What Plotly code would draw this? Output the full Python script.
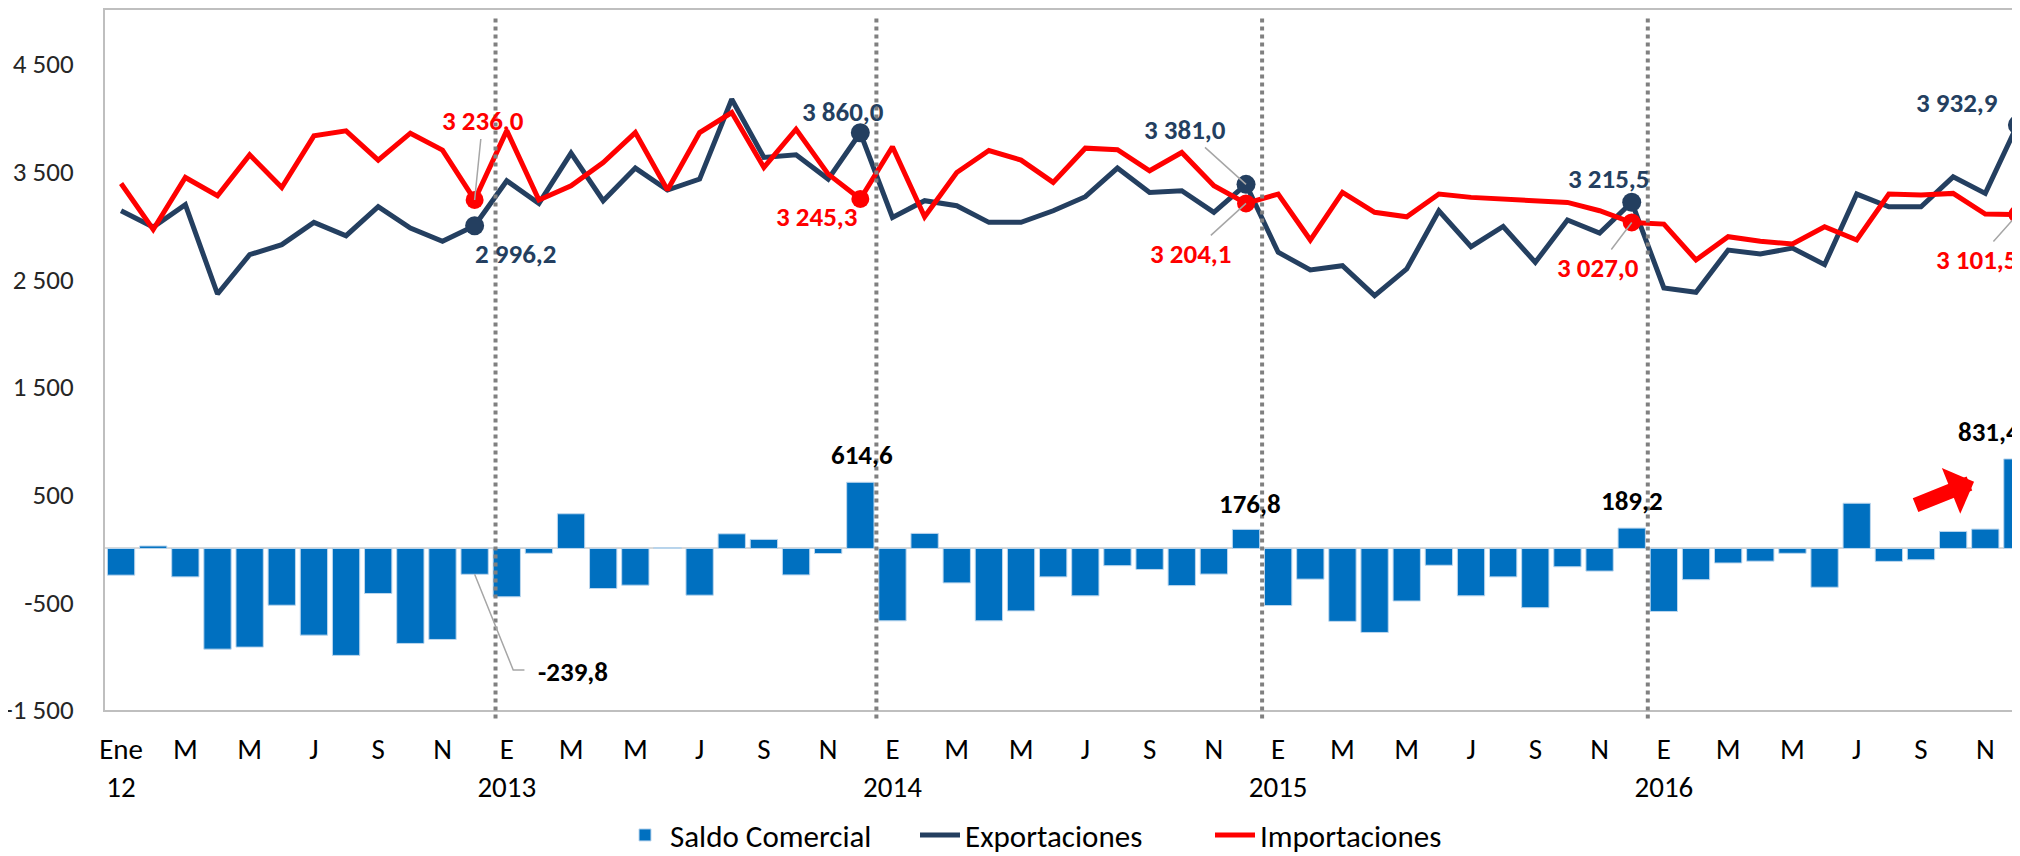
"""
Balanza comercial mensual 2012-2016: saldo (barras), exportaciones e importaciones (lineas).
"""

import plotly.graph_objects as go

# periodos mensuales ene-2012 .. dic-2016
anios = [2012, 2013, 2014, 2015, 2016]
periodos = [f"{a}-{m:02d}" for a in anios for m in range(1, 13)]

exportaciones = [
    3136, 2985, 3192, 2363, 2728, 2821, 3028, 2904, 3173, 2975, 2852, 2996.2,
    3414, 3204, 3671, 3229, 3532, 3328, 3430, 4171, 3631, 3655, 3430, 3860.0,
    3074, 3229, 3182, 3028, 3028, 3136, 3266, 3532, 3306, 3322, 3121, 3381.0,
    2750, 2586, 2626, 2348, 2595, 3136, 2802, 2990, 2657, 3050, 2929, 3215.5,
    2419, 2379, 2771, 2734, 2790, 2635, 3291, 3173, 3173, 3451, 3297, 3932.9,
]
importaciones = [
    3389, 2962, 3445, 3275, 3655, 3352, 3831, 3878, 3606, 3856, 3699, 3236.0,
    3880, 3235, 3368, 3584, 3862, 3328, 3862, 4048, 3538, 3893, 3476, 3245.3,
    3730, 3080, 3491, 3695, 3606, 3399, 3717, 3702, 3507, 3677, 3368, 3204.1,
    3291, 2864, 3306, 3121, 3080, 3291, 3260, 3247, 3229, 3213, 3136, 3027.0,
    3012, 2679, 2895, 2852, 2827, 2988, 2864, 3291, 3281, 3297, 3105, 3101.5,
]
saldo = [
    -248, 23, -264, -935, -916, -527, -805, -993, -418, -882, -845, -239.8,
    -449, -45, 322, -372, -341, 8, -434, 136, 84, -246, -47, 614.6,
    -672, 140, -320, -672, -580, -264, -440, -160, -195, -345, -238, 176.8,
    -530, -285, -677, -780, -488, -156, -440, -264, -550, -170, -210, 189.2,
    -585, -290, -135, -118, -45, -360, 420, -120, -105, 158, 180, 831.4,
]

# diciembres destacados (indices)
destacados = [11, 23, 35, 47, 59]

# etiquetas del eje x (cada dos meses)
ticks_x = [
    "Ene<br>12", "M", "M", "J", "S", "N",
    "E<br>2013", "M", "M", "J", "S", "N",
    "E<br>2014", "M", "M", "J", "S", "N",
    "E<br>2015", "M", "M", "J", "S", "N",
    "E<br>2016", "M", "M", "J", "S", "N",
]
ticks_y = [-1500, -500, 500, 1500, 2500, 3500, 4500]
ticks_y_txt = ["-1 500", "-500", "500", "1 500", "2 500", "3 500", "4 500"]

AZUL = "#0070C0"
NAVY = "#243F60"
ROJO = "#FF0000"
GRIS = "#A6A6A6"
FUENTE = "Carlito, Calibri, Lato, sans-serif"


def fmt(v):
    """3860.0 -> '3 860,0'"""
    s = f"{v:,.1f}"
    return s.replace(",", " ").replace(".", ",")


fig = go.Figure()

fig.add_trace(go.Bar(
    x=periodos, y=saldo, name="Saldo Comercial",
    marker=dict(color=AZUL, line=dict(color="#BDD7EE", width=1)),
))
fig.add_trace(go.Scatter(
    x=periodos, y=exportaciones, name="Exportaciones", mode="lines",
    line=dict(color=NAVY, width=5),
))
fig.add_trace(go.Scatter(
    x=periodos, y=importaciones, name="Importaciones", mode="lines",
    line=dict(color=ROJO, width=5),
))
# marcadores en diciembre
fig.add_trace(go.Scatter(
    x=[periodos[i] for i in destacados], y=[exportaciones[i] for i in destacados],
    mode="markers", showlegend=False, hoverinfo="skip",
    marker=dict(color=NAVY, size=19),
))
fig.add_trace(go.Scatter(
    x=[periodos[i] for i in destacados], y=[importaciones[i] for i in destacados],
    mode="markers", showlegend=False, hoverinfo="skip",
    marker=dict(color=ROJO, size=18),
))

# separadores de año
for xs in [11.65, 23.5, 35.5, 47.5]:
    fig.add_shape(type="line", xref="x", yref="paper", x0=xs, x1=xs, y0=-0.012, y1=0.993,
                  line=dict(color="#808080", width=4, dash="dot"), layer="above")

# etiquetas: (serie, indice, color, dx, dy, con guia)
etiquetas = [
    (exportaciones, 11, NAVY, 41, 28, False),
    (exportaciones, 23, NAVY, -17, -21, False),
    (exportaciones, 35, NAVY, -61, -55, True),
    (exportaciones, 47, NAVY, -23, -24, False),
    (exportaciones, 59, NAVY, -60, -22, False),
    (importaciones, 11, ROJO, 8, -79, True),
    (importaciones, 23, ROJO, -43, 18, False),
    (importaciones, 35, ROJO, -55, 50, True),
    (importaciones, 47, ROJO, -34, 45, True),
    (importaciones, 59, ROJO, -40, 45, True),
    (saldo, 23, "#000000", 2, -28, False),
    (saldo, 35, "#000000", 4, -26, False),
    (saldo, 47, "#000000", 0, -28, False),
    (saldo, 59, "#000000", -28, -27, False),
    (saldo, 11, "#000000", 98, 97, False),
]
for serie, i, color, dx, dy, guia in etiquetas:
    comun = dict(x=periodos[i], y=serie[i], text=f"<b>{fmt(serie[i])}</b>",
                 font=dict(family=FUENTE, size=27, color=color))
    if guia:
        fig.add_annotation(**comun, showarrow=True, arrowhead=0, arrowwidth=1.5,
                           arrowcolor=GRIS, ax=dx, ay=dy, standoff=0)
    else:
        fig.add_annotation(**comun, showarrow=False, xshift=dx, yshift=-dy)

# guia quebrada de la etiqueta -239,8
fig.add_shape(type="path", xref="x", yref="y",
              path=f"M 11,{saldo[11]} L 12.2,-1128 L 12.55,-1128",
              line=dict(color=GRIS, width=1.5))

# flecha roja hacia el ultimo saldo
fig.add_annotation(x=57.65, y=620, ax=-60, ay=24, text="", showarrow=True,
                   arrowhead=1, arrowsize=0.55, arrowwidth=15, arrowcolor=ROJO)

# la pagina deja 8 px de margen (body), se compensa aqui; el area sigue mas alla del borde
fig.update_layout(
    width=2012, height=848,
    margin=dict(l=97, r=0, t=2, b=146, autoexpand=False),
    plot_bgcolor="white", paper_bgcolor="white",
    font=dict(family=FUENTE, size=26, color="#262626"),
    bargap=0.15,
    showlegend=True,
    legend=dict(orientation="h", x=0.5, xanchor="center", y=-0.179, yanchor="middle",
                font=dict(size=31, color="#000000"), itemwidth=40,
                entrywidth=240, entrywidthmode="pixels"),
    xaxis=dict(
        type="category", automargin=False,
        range=[-0.5, 59.08], tickmode="array", tickvals=periodos[::2], ticktext=ticks_x,
        showgrid=False, showline=True, linecolor="#BFBFBF", linewidth=2, mirror=True,
        ticks="", ticklabelstandoff=12, tickfont=dict(size=29, color="#000000"),
    ),
    yaxis=dict(
        automargin=False,
        range=[-1500, 5000], tickmode="array", tickvals=ticks_y, ticktext=ticks_y_txt,
        showgrid=False, showline=True, linecolor="#BFBFBF", linewidth=2,
        zeroline=True, zerolinecolor="#D9D9D9", zerolinewidth=2,
        ticks="", ticklabelstandoff=24, tickfont=dict(size=27, color="#262626"),
    ),
)

fig.write_html("out.html")
